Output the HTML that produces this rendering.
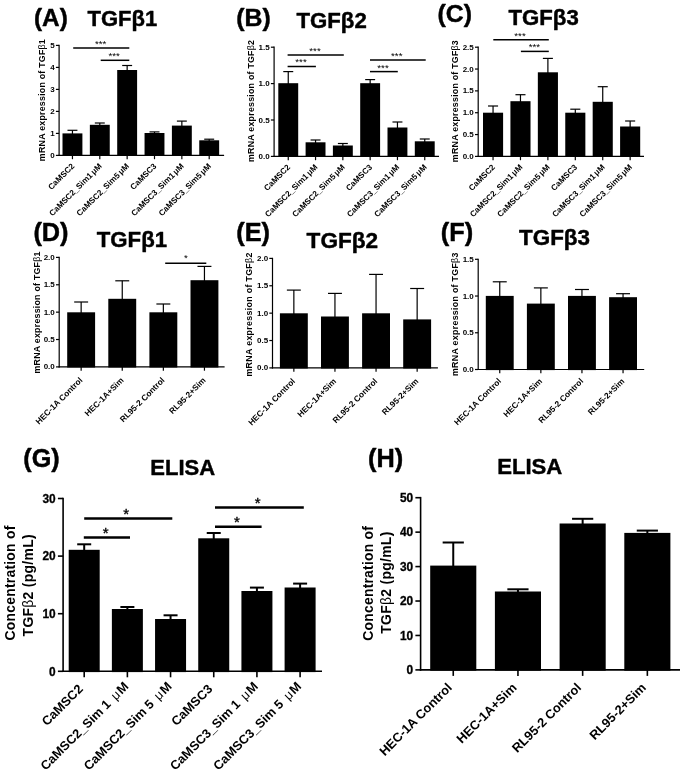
<!DOCTYPE html>
<html>
<head>
<meta charset="utf-8">
<title>Figure</title>
<style>
html,body{margin:0;padding:0;background:#fff;}
body{width:685px;height:772px;overflow:hidden;font-family:'Liberation Sans', sans-serif;}
svg{display:block;font-family:"Liberation Sans",sans-serif;fill:#000;filter:blur(0.45px);}
</style>
</head>
<body>
<svg width="685" height="772" viewBox="0 0 685 772">
<rect x="0" y="0" width="685" height="772" fill="#fff"/>
<g>
<line x1="59.10" y1="44.80" x2="59.10" y2="156.00" stroke="#000" stroke-width="1.2"/>
<line x1="58.50" y1="155.40" x2="224.10" y2="155.40" stroke="#000" stroke-width="1.2"/>
<line x1="55.90" y1="155.40" x2="59.10" y2="155.40" stroke="#000" stroke-width="1.2"/>
<text x="54.70" y="157.98" font-size="8.0" font-weight="bold" text-anchor="end">0</text>
<line x1="55.90" y1="133.40" x2="59.10" y2="133.40" stroke="#000" stroke-width="1.2"/>
<text x="54.70" y="135.98" font-size="8.0" font-weight="bold" text-anchor="end">1</text>
<line x1="55.90" y1="111.40" x2="59.10" y2="111.40" stroke="#000" stroke-width="1.2"/>
<text x="54.70" y="113.98" font-size="8.0" font-weight="bold" text-anchor="end">2</text>
<line x1="55.90" y1="89.40" x2="59.10" y2="89.40" stroke="#000" stroke-width="1.2"/>
<text x="54.70" y="91.98" font-size="8.0" font-weight="bold" text-anchor="end">3</text>
<line x1="55.90" y1="67.40" x2="59.10" y2="67.40" stroke="#000" stroke-width="1.2"/>
<text x="54.70" y="69.98" font-size="8.0" font-weight="bold" text-anchor="end">4</text>
<line x1="55.90" y1="45.40" x2="59.10" y2="45.40" stroke="#000" stroke-width="1.2"/>
<text x="54.70" y="47.98" font-size="8.0" font-weight="bold" text-anchor="end">5</text>
<rect x="62.50" y="133.40" width="19.90" height="22.60" fill="#000"/>
<line x1="72.45" y1="130.30" x2="72.45" y2="134.40" stroke="#000" stroke-width="1.2"/>
<line x1="67.48" y1="130.30" x2="77.42" y2="130.30" stroke="#000" stroke-width="1.2"/>
<line x1="72.45" y1="155.40" x2="72.45" y2="159.20" stroke="#000" stroke-width="1.2"/>
<text x="74.95" y="166.70" font-size="8.2" font-weight="bold" text-anchor="end" transform="rotate(-45 74.95 166.70)">CaMSC2</text>
<rect x="89.85" y="124.80" width="19.90" height="31.20" fill="#000"/>
<line x1="99.80" y1="123.00" x2="99.80" y2="125.80" stroke="#000" stroke-width="1.2"/>
<line x1="94.83" y1="123.00" x2="104.77" y2="123.00" stroke="#000" stroke-width="1.2"/>
<line x1="99.80" y1="155.40" x2="99.80" y2="159.20" stroke="#000" stroke-width="1.2"/>
<text x="102.30" y="166.70" font-size="8.2" font-weight="bold" text-anchor="end" transform="rotate(-45 102.30 166.70)">CaMSC2_Sim1<tspan dx="1.2">&#956;</tspan>M</text>
<rect x="117.20" y="70.00" width="19.90" height="86.00" fill="#000"/>
<line x1="127.15" y1="65.50" x2="127.15" y2="71.00" stroke="#000" stroke-width="1.2"/>
<line x1="122.18" y1="65.50" x2="132.12" y2="65.50" stroke="#000" stroke-width="1.2"/>
<line x1="127.15" y1="155.40" x2="127.15" y2="159.20" stroke="#000" stroke-width="1.2"/>
<text x="129.65" y="166.70" font-size="8.2" font-weight="bold" text-anchor="end" transform="rotate(-45 129.65 166.70)">CaMSC2_Sim5<tspan dx="1.2">&#956;</tspan>M</text>
<rect x="144.55" y="133.00" width="19.90" height="23.00" fill="#000"/>
<line x1="154.50" y1="131.90" x2="154.50" y2="134.00" stroke="#000" stroke-width="1.2"/>
<line x1="149.53" y1="131.90" x2="159.47" y2="131.90" stroke="#000" stroke-width="1.2"/>
<line x1="154.50" y1="155.40" x2="154.50" y2="159.20" stroke="#000" stroke-width="1.2"/>
<text x="157.00" y="166.70" font-size="8.2" font-weight="bold" text-anchor="end" transform="rotate(-45 157.00 166.70)">CaMSC3</text>
<rect x="171.90" y="125.60" width="19.90" height="30.40" fill="#000"/>
<line x1="181.85" y1="121.10" x2="181.85" y2="126.60" stroke="#000" stroke-width="1.2"/>
<line x1="176.88" y1="121.10" x2="186.82" y2="121.10" stroke="#000" stroke-width="1.2"/>
<line x1="181.85" y1="155.40" x2="181.85" y2="159.20" stroke="#000" stroke-width="1.2"/>
<text x="184.35" y="166.70" font-size="8.2" font-weight="bold" text-anchor="end" transform="rotate(-45 184.35 166.70)">CaMSC3_Sim1<tspan dx="1.2">&#956;</tspan>M</text>
<rect x="199.25" y="140.30" width="19.90" height="15.70" fill="#000"/>
<line x1="209.20" y1="139.20" x2="209.20" y2="141.30" stroke="#000" stroke-width="1.2"/>
<line x1="204.22" y1="139.20" x2="214.17" y2="139.20" stroke="#000" stroke-width="1.2"/>
<line x1="209.20" y1="155.40" x2="209.20" y2="159.20" stroke="#000" stroke-width="1.2"/>
<text x="211.70" y="166.70" font-size="8.2" font-weight="bold" text-anchor="end" transform="rotate(-45 211.70 166.70)">CaMSC3_Sim5<tspan dx="1.2">&#956;</tspan>M</text>
<line x1="73.20" y1="48.00" x2="129.30" y2="48.00" stroke="#000" stroke-width="1.5"/>
<text x="100.70" y="46.90" font-size="9.9" font-weight="normal" text-anchor="middle">***</text>
<line x1="100.70" y1="60.30" x2="129.30" y2="60.30" stroke="#000" stroke-width="1.5"/>
<text x="114.20" y="59.20" font-size="9.9" font-weight="normal" text-anchor="middle">***</text>
<text x="45.50" y="100.20" font-size="8.9" font-weight="bold" text-anchor="middle" transform="rotate(-90 45.50 100.20)" textLength="122" lengthAdjust="spacing">mRNA expression of TGF<tspan font-weight="normal">&#946;</tspan>1</text>
<text x="34.00" y="25.50" font-size="24.3" font-weight="bold" text-anchor="start" stroke="#000" stroke-width="0.45" stroke-linejoin="round">(A)</text>
<text x="87.50" y="25.50" font-size="22" font-weight="bold" text-anchor="start" stroke="#000" stroke-width="0.45" stroke-linejoin="round">TGF&#946;1</text>
</g>
<g>
<line x1="274.10" y1="46.60" x2="274.10" y2="157.00" stroke="#000" stroke-width="1.2"/>
<line x1="273.50" y1="156.40" x2="439.00" y2="156.40" stroke="#000" stroke-width="1.2"/>
<line x1="270.90" y1="156.40" x2="274.10" y2="156.40" stroke="#000" stroke-width="1.2"/>
<text x="269.70" y="158.98" font-size="8.0" font-weight="bold" text-anchor="end">0.0</text>
<line x1="270.90" y1="120.00" x2="274.10" y2="120.00" stroke="#000" stroke-width="1.2"/>
<text x="269.70" y="122.58" font-size="8.0" font-weight="bold" text-anchor="end">0.5</text>
<line x1="270.90" y1="83.60" x2="274.10" y2="83.60" stroke="#000" stroke-width="1.2"/>
<text x="269.70" y="86.18" font-size="8.0" font-weight="bold" text-anchor="end">1.0</text>
<line x1="270.90" y1="47.20" x2="274.10" y2="47.20" stroke="#000" stroke-width="1.2"/>
<text x="269.70" y="49.78" font-size="8.0" font-weight="bold" text-anchor="end">1.5</text>
<rect x="278.30" y="83.20" width="19.90" height="73.80" fill="#000"/>
<line x1="288.25" y1="71.60" x2="288.25" y2="84.20" stroke="#000" stroke-width="1.2"/>
<line x1="283.27" y1="71.60" x2="293.23" y2="71.60" stroke="#000" stroke-width="1.2"/>
<line x1="288.25" y1="156.40" x2="288.25" y2="160.20" stroke="#000" stroke-width="1.2"/>
<text x="290.75" y="167.70" font-size="8.2" font-weight="bold" text-anchor="end" transform="rotate(-45 290.75 167.70)">CaMSC2</text>
<rect x="305.60" y="142.30" width="19.90" height="14.70" fill="#000"/>
<line x1="315.55" y1="140.00" x2="315.55" y2="143.30" stroke="#000" stroke-width="1.2"/>
<line x1="310.57" y1="140.00" x2="320.53" y2="140.00" stroke="#000" stroke-width="1.2"/>
<line x1="315.55" y1="156.40" x2="315.55" y2="160.20" stroke="#000" stroke-width="1.2"/>
<text x="318.05" y="167.70" font-size="8.2" font-weight="bold" text-anchor="end" transform="rotate(-45 318.05 167.70)">CaMSC2_Sim1<tspan dx="1.2">&#956;</tspan>M</text>
<rect x="332.90" y="145.50" width="19.90" height="11.50" fill="#000"/>
<line x1="342.85" y1="143.50" x2="342.85" y2="146.50" stroke="#000" stroke-width="1.2"/>
<line x1="337.88" y1="143.50" x2="347.83" y2="143.50" stroke="#000" stroke-width="1.2"/>
<line x1="342.85" y1="156.40" x2="342.85" y2="160.20" stroke="#000" stroke-width="1.2"/>
<text x="345.35" y="167.70" font-size="8.2" font-weight="bold" text-anchor="end" transform="rotate(-45 345.35 167.70)">CaMSC2_Sim5<tspan dx="1.2">&#956;</tspan>M</text>
<rect x="360.20" y="83.20" width="19.90" height="73.80" fill="#000"/>
<line x1="370.15" y1="79.60" x2="370.15" y2="84.20" stroke="#000" stroke-width="1.2"/>
<line x1="365.18" y1="79.60" x2="375.13" y2="79.60" stroke="#000" stroke-width="1.2"/>
<line x1="370.15" y1="156.40" x2="370.15" y2="160.20" stroke="#000" stroke-width="1.2"/>
<text x="372.65" y="167.70" font-size="8.2" font-weight="bold" text-anchor="end" transform="rotate(-45 372.65 167.70)">CaMSC3</text>
<rect x="387.50" y="127.50" width="19.90" height="29.50" fill="#000"/>
<line x1="397.45" y1="122.00" x2="397.45" y2="128.50" stroke="#000" stroke-width="1.2"/>
<line x1="392.47" y1="122.00" x2="402.43" y2="122.00" stroke="#000" stroke-width="1.2"/>
<line x1="397.45" y1="156.40" x2="397.45" y2="160.20" stroke="#000" stroke-width="1.2"/>
<text x="399.95" y="167.70" font-size="8.2" font-weight="bold" text-anchor="end" transform="rotate(-45 399.95 167.70)">CaMSC3_Sim1<tspan dx="1.2">&#956;</tspan>M</text>
<rect x="414.80" y="141.30" width="19.90" height="15.70" fill="#000"/>
<line x1="424.75" y1="139.00" x2="424.75" y2="142.30" stroke="#000" stroke-width="1.2"/>
<line x1="419.77" y1="139.00" x2="429.73" y2="139.00" stroke="#000" stroke-width="1.2"/>
<line x1="424.75" y1="156.40" x2="424.75" y2="160.20" stroke="#000" stroke-width="1.2"/>
<text x="427.25" y="167.70" font-size="8.2" font-weight="bold" text-anchor="end" transform="rotate(-45 427.25 167.70)">CaMSC3_Sim5<tspan dx="1.2">&#956;</tspan>M</text>
<line x1="287.60" y1="54.90" x2="343.80" y2="54.90" stroke="#000" stroke-width="1.5"/>
<text x="315.00" y="53.80" font-size="9.9" font-weight="normal" text-anchor="middle">***</text>
<line x1="287.60" y1="66.50" x2="315.90" y2="66.50" stroke="#000" stroke-width="1.5"/>
<text x="301.00" y="65.40" font-size="9.9" font-weight="normal" text-anchor="middle">***</text>
<line x1="370.00" y1="60.00" x2="425.70" y2="60.00" stroke="#000" stroke-width="1.5"/>
<text x="396.80" y="58.90" font-size="9.9" font-weight="normal" text-anchor="middle">***</text>
<line x1="370.00" y1="71.60" x2="397.80" y2="71.60" stroke="#000" stroke-width="1.5"/>
<text x="383.00" y="70.50" font-size="9.9" font-weight="normal" text-anchor="middle">***</text>
<text x="253.90" y="101.00" font-size="8.9" font-weight="bold" text-anchor="middle" transform="rotate(-90 253.90 101.00)" textLength="122" lengthAdjust="spacing">mRNA expression of TGF<tspan font-weight="normal">&#946;</tspan>2</text>
<text x="236.30" y="25.80" font-size="24.8" font-weight="bold" text-anchor="start" stroke="#000" stroke-width="0.45" stroke-linejoin="round">(B)</text>
<text x="296.50" y="27.60" font-size="22.2" font-weight="bold" text-anchor="start" stroke="#000" stroke-width="0.45" stroke-linejoin="round">TGF&#946;2</text>
</g>
<g>
<line x1="478.20" y1="46.60" x2="478.20" y2="157.00" stroke="#000" stroke-width="1.2"/>
<line x1="477.60" y1="156.40" x2="644.00" y2="156.40" stroke="#000" stroke-width="1.2"/>
<line x1="475.00" y1="156.40" x2="478.20" y2="156.40" stroke="#000" stroke-width="1.2"/>
<text x="473.80" y="158.98" font-size="8.0" font-weight="bold" text-anchor="end">0.0</text>
<line x1="475.00" y1="134.56" x2="478.20" y2="134.56" stroke="#000" stroke-width="1.2"/>
<text x="473.80" y="137.14" font-size="8.0" font-weight="bold" text-anchor="end">0.5</text>
<line x1="475.00" y1="112.72" x2="478.20" y2="112.72" stroke="#000" stroke-width="1.2"/>
<text x="473.80" y="115.30" font-size="8.0" font-weight="bold" text-anchor="end">1.0</text>
<line x1="475.00" y1="90.88" x2="478.20" y2="90.88" stroke="#000" stroke-width="1.2"/>
<text x="473.80" y="93.46" font-size="8.0" font-weight="bold" text-anchor="end">1.5</text>
<line x1="475.00" y1="69.04" x2="478.20" y2="69.04" stroke="#000" stroke-width="1.2"/>
<text x="473.80" y="71.62" font-size="8.0" font-weight="bold" text-anchor="end">2.0</text>
<line x1="475.00" y1="47.20" x2="478.20" y2="47.20" stroke="#000" stroke-width="1.2"/>
<text x="473.80" y="49.78" font-size="8.0" font-weight="bold" text-anchor="end">2.5</text>
<rect x="483.00" y="112.70" width="20.10" height="44.30" fill="#000"/>
<line x1="493.05" y1="106.00" x2="493.05" y2="113.70" stroke="#000" stroke-width="1.2"/>
<line x1="488.03" y1="106.00" x2="498.07" y2="106.00" stroke="#000" stroke-width="1.2"/>
<line x1="493.05" y1="156.40" x2="493.05" y2="160.20" stroke="#000" stroke-width="1.2"/>
<text x="495.55" y="167.70" font-size="8.2" font-weight="bold" text-anchor="end" transform="rotate(-45 495.55 167.70)">CaMSC2</text>
<rect x="510.42" y="101.20" width="20.10" height="55.80" fill="#000"/>
<line x1="520.47" y1="94.70" x2="520.47" y2="102.20" stroke="#000" stroke-width="1.2"/>
<line x1="515.45" y1="94.70" x2="525.50" y2="94.70" stroke="#000" stroke-width="1.2"/>
<line x1="520.47" y1="156.40" x2="520.47" y2="160.20" stroke="#000" stroke-width="1.2"/>
<text x="522.97" y="167.70" font-size="8.2" font-weight="bold" text-anchor="end" transform="rotate(-45 522.97 167.70)">CaMSC2_Sim1<tspan dx="1.2">&#956;</tspan>M</text>
<rect x="537.84" y="72.30" width="20.10" height="84.70" fill="#000"/>
<line x1="547.89" y1="58.40" x2="547.89" y2="73.30" stroke="#000" stroke-width="1.2"/>
<line x1="542.87" y1="58.40" x2="552.91" y2="58.40" stroke="#000" stroke-width="1.2"/>
<line x1="547.89" y1="156.40" x2="547.89" y2="160.20" stroke="#000" stroke-width="1.2"/>
<text x="550.39" y="167.70" font-size="8.2" font-weight="bold" text-anchor="end" transform="rotate(-45 550.39 167.70)">CaMSC2_Sim5<tspan dx="1.2">&#956;</tspan>M</text>
<rect x="565.26" y="112.70" width="20.10" height="44.30" fill="#000"/>
<line x1="575.31" y1="109.20" x2="575.31" y2="113.70" stroke="#000" stroke-width="1.2"/>
<line x1="570.28" y1="109.20" x2="580.33" y2="109.20" stroke="#000" stroke-width="1.2"/>
<line x1="575.31" y1="156.40" x2="575.31" y2="160.20" stroke="#000" stroke-width="1.2"/>
<text x="577.81" y="167.70" font-size="8.2" font-weight="bold" text-anchor="end" transform="rotate(-45 577.81 167.70)">CaMSC3</text>
<rect x="592.68" y="101.80" width="20.10" height="55.20" fill="#000"/>
<line x1="602.73" y1="86.70" x2="602.73" y2="102.80" stroke="#000" stroke-width="1.2"/>
<line x1="597.71" y1="86.70" x2="607.75" y2="86.70" stroke="#000" stroke-width="1.2"/>
<line x1="602.73" y1="156.40" x2="602.73" y2="160.20" stroke="#000" stroke-width="1.2"/>
<text x="605.23" y="167.70" font-size="8.2" font-weight="bold" text-anchor="end" transform="rotate(-45 605.23 167.70)">CaMSC3_Sim1<tspan dx="1.2">&#956;</tspan>M</text>
<rect x="620.10" y="126.50" width="20.10" height="30.50" fill="#000"/>
<line x1="630.15" y1="121.00" x2="630.15" y2="127.50" stroke="#000" stroke-width="1.2"/>
<line x1="625.12" y1="121.00" x2="635.17" y2="121.00" stroke="#000" stroke-width="1.2"/>
<line x1="630.15" y1="156.40" x2="630.15" y2="160.20" stroke="#000" stroke-width="1.2"/>
<text x="632.65" y="167.70" font-size="8.2" font-weight="bold" text-anchor="end" transform="rotate(-45 632.65 167.70)">CaMSC3_Sim5<tspan dx="1.2">&#956;</tspan>M</text>
<line x1="493.30" y1="39.80" x2="548.80" y2="39.80" stroke="#000" stroke-width="1.5"/>
<text x="520.00" y="38.70" font-size="9.9" font-weight="normal" text-anchor="middle">***</text>
<line x1="520.90" y1="51.40" x2="548.80" y2="51.40" stroke="#000" stroke-width="1.5"/>
<text x="534.40" y="50.30" font-size="9.9" font-weight="normal" text-anchor="middle">***</text>
<text x="458.00" y="101.20" font-size="8.9" font-weight="bold" text-anchor="middle" transform="rotate(-90 458.00 101.20)" textLength="122" lengthAdjust="spacing">mRNA expression of TGF<tspan font-weight="normal">&#946;</tspan>3</text>
<text x="437.60" y="21.60" font-size="24.8" font-weight="bold" text-anchor="start" stroke="#000" stroke-width="0.45" stroke-linejoin="round">(C)</text>
<text x="508.50" y="24.80" font-size="22.2" font-weight="bold" text-anchor="start" stroke="#000" stroke-width="0.45" stroke-linejoin="round">TGF&#946;3</text>
</g>
<g>
<line x1="59.20" y1="256.80" x2="59.20" y2="367.50" stroke="#000" stroke-width="1.2"/>
<line x1="58.60" y1="366.90" x2="224.60" y2="366.90" stroke="#000" stroke-width="1.2"/>
<line x1="56.00" y1="366.90" x2="59.20" y2="366.90" stroke="#000" stroke-width="1.2"/>
<text x="54.80" y="369.48" font-size="8.0" font-weight="bold" text-anchor="end">0.0</text>
<line x1="56.00" y1="339.52" x2="59.20" y2="339.52" stroke="#000" stroke-width="1.2"/>
<text x="54.80" y="342.10" font-size="8.0" font-weight="bold" text-anchor="end">0.5</text>
<line x1="56.00" y1="312.15" x2="59.20" y2="312.15" stroke="#000" stroke-width="1.2"/>
<text x="54.80" y="314.73" font-size="8.0" font-weight="bold" text-anchor="end">1.0</text>
<line x1="56.00" y1="284.77" x2="59.20" y2="284.77" stroke="#000" stroke-width="1.2"/>
<text x="54.80" y="287.35" font-size="8.0" font-weight="bold" text-anchor="end">1.5</text>
<line x1="56.00" y1="257.40" x2="59.20" y2="257.40" stroke="#000" stroke-width="1.2"/>
<text x="54.80" y="259.98" font-size="8.0" font-weight="bold" text-anchor="end">2.0</text>
<rect x="67.20" y="312.30" width="27.90" height="55.20" fill="#000"/>
<line x1="81.15" y1="302.00" x2="81.15" y2="313.30" stroke="#000" stroke-width="1.2"/>
<line x1="74.18" y1="302.00" x2="88.12" y2="302.00" stroke="#000" stroke-width="1.2"/>
<line x1="81.15" y1="366.90" x2="81.15" y2="370.70" stroke="#000" stroke-width="1.2"/>
<text x="83.05" y="380.80" font-size="8.3" font-weight="bold" text-anchor="end" transform="rotate(-45 83.05 380.80)">HEC-1A Control</text>
<rect x="108.30" y="298.80" width="27.90" height="68.70" fill="#000"/>
<line x1="122.25" y1="280.80" x2="122.25" y2="299.80" stroke="#000" stroke-width="1.2"/>
<line x1="115.28" y1="280.80" x2="129.23" y2="280.80" stroke="#000" stroke-width="1.2"/>
<line x1="122.25" y1="366.90" x2="122.25" y2="370.70" stroke="#000" stroke-width="1.2"/>
<text x="124.15" y="380.80" font-size="8.3" font-weight="bold" text-anchor="end" transform="rotate(-45 124.15 380.80)">HEC-1A+Sim</text>
<rect x="149.40" y="312.30" width="27.90" height="55.20" fill="#000"/>
<line x1="163.35" y1="304.00" x2="163.35" y2="313.30" stroke="#000" stroke-width="1.2"/>
<line x1="156.38" y1="304.00" x2="170.32" y2="304.00" stroke="#000" stroke-width="1.2"/>
<line x1="163.35" y1="366.90" x2="163.35" y2="370.70" stroke="#000" stroke-width="1.2"/>
<text x="165.25" y="380.80" font-size="8.3" font-weight="bold" text-anchor="end" transform="rotate(-45 165.25 380.80)">RL95-2 Control</text>
<rect x="190.50" y="280.20" width="27.90" height="87.30" fill="#000"/>
<line x1="204.45" y1="266.40" x2="204.45" y2="281.20" stroke="#000" stroke-width="1.2"/>
<line x1="197.47" y1="266.40" x2="211.42" y2="266.40" stroke="#000" stroke-width="1.2"/>
<line x1="204.45" y1="366.90" x2="204.45" y2="370.70" stroke="#000" stroke-width="1.2"/>
<text x="206.35" y="380.80" font-size="8.3" font-weight="bold" text-anchor="end" transform="rotate(-45 206.35 380.80)">RL95-2+Sim</text>
<line x1="165.20" y1="263.20" x2="206.30" y2="263.20" stroke="#000" stroke-width="1.5"/>
<text x="186.00" y="261.20" font-size="9.9" font-weight="normal" text-anchor="middle">*</text>
<text x="40.10" y="312.50" font-size="8.9" font-weight="bold" text-anchor="middle" transform="rotate(-90 40.10 312.50)" textLength="122" lengthAdjust="spacing">mRNA expression of TGF<tspan font-weight="normal">&#946;</tspan>1</text>
<text x="33.40" y="241.20" font-size="25.3" font-weight="bold" text-anchor="start" stroke="#000" stroke-width="0.45" stroke-linejoin="round">(D)</text>
<text x="96.80" y="246.60" font-size="22.2" font-weight="bold" text-anchor="start" stroke="#000" stroke-width="0.45" stroke-linejoin="round">TGF&#946;1</text>
</g>
<g>
<line x1="272.50" y1="257.80" x2="272.50" y2="368.50" stroke="#000" stroke-width="1.2"/>
<line x1="271.90" y1="367.90" x2="437.90" y2="367.90" stroke="#000" stroke-width="1.2"/>
<line x1="269.30" y1="367.90" x2="272.50" y2="367.90" stroke="#000" stroke-width="1.2"/>
<text x="268.10" y="370.48" font-size="8.0" font-weight="bold" text-anchor="end">0.0</text>
<line x1="269.30" y1="340.52" x2="272.50" y2="340.52" stroke="#000" stroke-width="1.2"/>
<text x="268.10" y="343.10" font-size="8.0" font-weight="bold" text-anchor="end">0.5</text>
<line x1="269.30" y1="313.15" x2="272.50" y2="313.15" stroke="#000" stroke-width="1.2"/>
<text x="268.10" y="315.73" font-size="8.0" font-weight="bold" text-anchor="end">1.0</text>
<line x1="269.30" y1="285.77" x2="272.50" y2="285.77" stroke="#000" stroke-width="1.2"/>
<text x="268.10" y="288.35" font-size="8.0" font-weight="bold" text-anchor="end">1.5</text>
<line x1="269.30" y1="258.40" x2="272.50" y2="258.40" stroke="#000" stroke-width="1.2"/>
<text x="268.10" y="260.98" font-size="8.0" font-weight="bold" text-anchor="end">2.0</text>
<rect x="279.90" y="313.30" width="27.90" height="55.20" fill="#000"/>
<line x1="293.85" y1="290.10" x2="293.85" y2="314.30" stroke="#000" stroke-width="1.2"/>
<line x1="286.87" y1="290.10" x2="300.82" y2="290.10" stroke="#000" stroke-width="1.2"/>
<line x1="293.85" y1="367.90" x2="293.85" y2="371.70" stroke="#000" stroke-width="1.2"/>
<text x="295.75" y="381.80" font-size="8.3" font-weight="bold" text-anchor="end" transform="rotate(-45 295.75 381.80)">HEC-1A Control</text>
<rect x="321.00" y="316.50" width="27.90" height="52.00" fill="#000"/>
<line x1="334.95" y1="293.40" x2="334.95" y2="317.50" stroke="#000" stroke-width="1.2"/>
<line x1="327.97" y1="293.40" x2="341.93" y2="293.40" stroke="#000" stroke-width="1.2"/>
<line x1="334.95" y1="367.90" x2="334.95" y2="371.70" stroke="#000" stroke-width="1.2"/>
<text x="336.85" y="381.80" font-size="8.3" font-weight="bold" text-anchor="end" transform="rotate(-45 336.85 381.80)">HEC-1A+Sim</text>
<rect x="362.10" y="313.30" width="27.90" height="55.20" fill="#000"/>
<line x1="376.05" y1="274.40" x2="376.05" y2="314.30" stroke="#000" stroke-width="1.2"/>
<line x1="369.07" y1="274.40" x2="383.02" y2="274.40" stroke="#000" stroke-width="1.2"/>
<line x1="376.05" y1="367.90" x2="376.05" y2="371.70" stroke="#000" stroke-width="1.2"/>
<text x="377.95" y="381.80" font-size="8.3" font-weight="bold" text-anchor="end" transform="rotate(-45 377.95 381.80)">RL95-2 Control</text>
<rect x="403.20" y="319.40" width="27.90" height="49.10" fill="#000"/>
<line x1="417.15" y1="288.50" x2="417.15" y2="320.40" stroke="#000" stroke-width="1.2"/>
<line x1="410.17" y1="288.50" x2="424.12" y2="288.50" stroke="#000" stroke-width="1.2"/>
<line x1="417.15" y1="367.90" x2="417.15" y2="371.70" stroke="#000" stroke-width="1.2"/>
<text x="419.05" y="381.80" font-size="8.3" font-weight="bold" text-anchor="end" transform="rotate(-45 419.05 381.80)">RL95-2+Sim</text>
<text x="252.50" y="314.60" font-size="8.9" font-weight="bold" text-anchor="middle" transform="rotate(-90 252.50 314.60)" textLength="124" lengthAdjust="spacing">mRNA expression of TGF<tspan font-weight="normal">&#946;</tspan>2</text>
<text x="236.30" y="241.20" font-size="25.3" font-weight="bold" text-anchor="start" stroke="#000" stroke-width="0.45" stroke-linejoin="round">(E)</text>
<text x="306.60" y="247.70" font-size="22.6" font-weight="bold" text-anchor="start" stroke="#000" stroke-width="0.45" stroke-linejoin="round">TGF&#946;2</text>
</g>
<g>
<line x1="478.20" y1="258.70" x2="478.20" y2="370.10" stroke="#000" stroke-width="1.2"/>
<line x1="477.60" y1="369.50" x2="644.20" y2="369.50" stroke="#000" stroke-width="1.2"/>
<line x1="475.00" y1="369.50" x2="478.20" y2="369.50" stroke="#000" stroke-width="1.2"/>
<text x="473.80" y="372.08" font-size="8.0" font-weight="bold" text-anchor="end">0.0</text>
<line x1="475.00" y1="332.77" x2="478.20" y2="332.77" stroke="#000" stroke-width="1.2"/>
<text x="473.80" y="335.35" font-size="8.0" font-weight="bold" text-anchor="end">0.5</text>
<line x1="475.00" y1="296.03" x2="478.20" y2="296.03" stroke="#000" stroke-width="1.2"/>
<text x="473.80" y="298.61" font-size="8.0" font-weight="bold" text-anchor="end">1.0</text>
<line x1="475.00" y1="259.30" x2="478.20" y2="259.30" stroke="#000" stroke-width="1.2"/>
<text x="473.80" y="261.88" font-size="8.0" font-weight="bold" text-anchor="end">1.5</text>
<rect x="485.80" y="295.90" width="27.90" height="74.20" fill="#000"/>
<line x1="499.75" y1="281.80" x2="499.75" y2="296.90" stroke="#000" stroke-width="1.2"/>
<line x1="492.77" y1="281.80" x2="506.73" y2="281.80" stroke="#000" stroke-width="1.2"/>
<line x1="499.75" y1="369.50" x2="499.75" y2="373.30" stroke="#000" stroke-width="1.2"/>
<text x="501.65" y="381.70" font-size="8.3" font-weight="bold" text-anchor="end" transform="rotate(-45 501.65 381.70)">HEC-1A Control</text>
<rect x="526.90" y="303.60" width="27.90" height="66.50" fill="#000"/>
<line x1="540.85" y1="287.90" x2="540.85" y2="304.60" stroke="#000" stroke-width="1.2"/>
<line x1="533.88" y1="287.90" x2="547.83" y2="287.90" stroke="#000" stroke-width="1.2"/>
<line x1="540.85" y1="369.50" x2="540.85" y2="373.30" stroke="#000" stroke-width="1.2"/>
<text x="542.75" y="381.70" font-size="8.3" font-weight="bold" text-anchor="end" transform="rotate(-45 542.75 381.70)">HEC-1A+Sim</text>
<rect x="568.00" y="295.90" width="27.90" height="74.20" fill="#000"/>
<line x1="581.95" y1="289.50" x2="581.95" y2="296.90" stroke="#000" stroke-width="1.2"/>
<line x1="574.98" y1="289.50" x2="588.93" y2="289.50" stroke="#000" stroke-width="1.2"/>
<line x1="581.95" y1="369.50" x2="581.95" y2="373.30" stroke="#000" stroke-width="1.2"/>
<text x="583.85" y="381.70" font-size="8.3" font-weight="bold" text-anchor="end" transform="rotate(-45 583.85 381.70)">RL95-2 Control</text>
<rect x="609.10" y="297.20" width="27.90" height="72.90" fill="#000"/>
<line x1="623.05" y1="293.70" x2="623.05" y2="298.20" stroke="#000" stroke-width="1.2"/>
<line x1="616.08" y1="293.70" x2="630.03" y2="293.70" stroke="#000" stroke-width="1.2"/>
<line x1="623.05" y1="369.50" x2="623.05" y2="373.30" stroke="#000" stroke-width="1.2"/>
<text x="624.95" y="381.70" font-size="8.3" font-weight="bold" text-anchor="end" transform="rotate(-45 624.95 381.70)">RL95-2+Sim</text>
<text x="458.00" y="314.30" font-size="8.9" font-weight="bold" text-anchor="middle" transform="rotate(-90 458.00 314.30)" textLength="123.5" lengthAdjust="spacing">mRNA expression of TGF<tspan font-weight="normal">&#946;</tspan>3</text>
<text x="440.80" y="240.50" font-size="25.3" font-weight="bold" text-anchor="start" stroke="#000" stroke-width="0.45" stroke-linejoin="round">(F)</text>
<text x="519.10" y="245.30" font-size="22.4" font-weight="bold" text-anchor="start" stroke="#000" stroke-width="0.45" stroke-linejoin="round">TGF&#946;3</text>
</g>
<g>
<line x1="63.10" y1="497.70" x2="63.10" y2="672.10" stroke="#000" stroke-width="1.6"/>
<line x1="62.30" y1="671.30" x2="322.00" y2="671.30" stroke="#000" stroke-width="1.6"/>
<line x1="57.90" y1="671.30" x2="63.10" y2="671.30" stroke="#000" stroke-width="1.6"/>
<text x="55.70" y="675.58" font-size="11.9" font-weight="bold" text-anchor="end" stroke="#000" stroke-width="0.3">0</text>
<line x1="57.90" y1="613.70" x2="63.10" y2="613.70" stroke="#000" stroke-width="1.6"/>
<text x="55.70" y="617.98" font-size="11.9" font-weight="bold" text-anchor="end" stroke="#000" stroke-width="0.3">10</text>
<line x1="57.90" y1="556.10" x2="63.10" y2="556.10" stroke="#000" stroke-width="1.6"/>
<text x="55.70" y="560.38" font-size="11.9" font-weight="bold" text-anchor="end" stroke="#000" stroke-width="0.3">20</text>
<line x1="57.90" y1="498.50" x2="63.10" y2="498.50" stroke="#000" stroke-width="1.6"/>
<text x="55.70" y="502.78" font-size="11.9" font-weight="bold" text-anchor="end" stroke="#000" stroke-width="0.3">30</text>
<rect x="68.70" y="549.80" width="31.00" height="122.30" fill="#000"/>
<line x1="84.20" y1="544.30" x2="84.20" y2="550.80" stroke="#000" stroke-width="2.0"/>
<line x1="77.20" y1="544.30" x2="91.20" y2="544.30" stroke="#000" stroke-width="2.0"/>
<line x1="84.20" y1="671.30" x2="84.20" y2="677.30" stroke="#000" stroke-width="1.6"/>
<text x="83.70" y="689.80" font-size="12.8" font-weight="bold" text-anchor="end" transform="rotate(-45 83.70 689.80)">CaMSC2</text>
<rect x="111.88" y="609.00" width="31.00" height="63.10" fill="#000"/>
<line x1="127.38" y1="607.00" x2="127.38" y2="610.00" stroke="#000" stroke-width="2.0"/>
<line x1="120.38" y1="607.00" x2="134.38" y2="607.00" stroke="#000" stroke-width="2.0"/>
<line x1="127.38" y1="671.30" x2="127.38" y2="677.30" stroke="#000" stroke-width="1.6"/>
<text x="129.38" y="687.30" font-size="12.8" font-weight="bold" text-anchor="end" transform="rotate(-45 129.38 687.30)">CaMSC2_Sim 1 <tspan font-weight="normal" dx="2.5">&#956;</tspan><tspan dx="1">M</tspan></text>
<rect x="155.06" y="619.00" width="31.00" height="53.10" fill="#000"/>
<line x1="170.56" y1="615.30" x2="170.56" y2="620.00" stroke="#000" stroke-width="2.0"/>
<line x1="163.56" y1="615.30" x2="177.56" y2="615.30" stroke="#000" stroke-width="2.0"/>
<line x1="170.56" y1="671.30" x2="170.56" y2="677.30" stroke="#000" stroke-width="1.6"/>
<text x="172.56" y="687.30" font-size="12.8" font-weight="bold" text-anchor="end" transform="rotate(-45 172.56 687.30)">CaMSC2_Sim 5 <tspan font-weight="normal" dx="2.5">&#956;</tspan><tspan dx="1">M</tspan></text>
<rect x="198.24" y="538.30" width="31.00" height="133.80" fill="#000"/>
<line x1="213.74" y1="533.00" x2="213.74" y2="539.30" stroke="#000" stroke-width="2.0"/>
<line x1="206.74" y1="533.00" x2="220.74" y2="533.00" stroke="#000" stroke-width="2.0"/>
<line x1="213.74" y1="671.30" x2="213.74" y2="677.30" stroke="#000" stroke-width="1.6"/>
<text x="213.24" y="689.80" font-size="12.8" font-weight="bold" text-anchor="end" transform="rotate(-45 213.24 689.80)">CaMSC3</text>
<rect x="241.42" y="591.00" width="31.00" height="81.10" fill="#000"/>
<line x1="256.92" y1="587.60" x2="256.92" y2="592.00" stroke="#000" stroke-width="2.0"/>
<line x1="249.92" y1="587.60" x2="263.92" y2="587.60" stroke="#000" stroke-width="2.0"/>
<line x1="256.92" y1="671.30" x2="256.92" y2="677.30" stroke="#000" stroke-width="1.6"/>
<text x="258.92" y="687.30" font-size="12.8" font-weight="bold" text-anchor="end" transform="rotate(-45 258.92 687.30)">CaMSC3_Sim 1 <tspan font-weight="normal" dx="2.5">&#956;</tspan><tspan dx="1">M</tspan></text>
<rect x="284.60" y="587.50" width="31.00" height="84.60" fill="#000"/>
<line x1="300.10" y1="583.60" x2="300.10" y2="588.50" stroke="#000" stroke-width="2.0"/>
<line x1="293.10" y1="583.60" x2="307.10" y2="583.60" stroke="#000" stroke-width="2.0"/>
<line x1="300.10" y1="671.30" x2="300.10" y2="677.30" stroke="#000" stroke-width="1.6"/>
<text x="302.10" y="687.30" font-size="12.8" font-weight="bold" text-anchor="end" transform="rotate(-45 302.10 687.30)">CaMSC3_Sim 5 <tspan font-weight="normal" dx="2.5">&#956;</tspan><tspan dx="1">M</tspan></text>
<line x1="84.20" y1="518.60" x2="172.30" y2="518.60" stroke="#000" stroke-width="2.5"/>
<text x="126.20" y="519.10" font-size="15" font-weight="normal" text-anchor="middle" stroke="#000" stroke-width="0.35">*</text>
<line x1="83.80" y1="537.60" x2="130.00" y2="537.60" stroke="#000" stroke-width="2.5"/>
<text x="105.70" y="538.10" font-size="15" font-weight="normal" text-anchor="middle" stroke="#000" stroke-width="0.35">*</text>
<line x1="215.00" y1="507.50" x2="303.80" y2="507.50" stroke="#000" stroke-width="2.5"/>
<text x="257.60" y="508.00" font-size="15" font-weight="normal" text-anchor="middle" stroke="#000" stroke-width="0.35">*</text>
<line x1="215.00" y1="526.80" x2="261.60" y2="526.80" stroke="#000" stroke-width="2.5"/>
<text x="236.80" y="527.30" font-size="15" font-weight="normal" text-anchor="middle" stroke="#000" stroke-width="0.35">*</text>
<text x="15.00" y="583.10" font-size="13.9" font-weight="bold" text-anchor="middle" transform="rotate(-90 15.00 583.10)" textLength="114.8" lengthAdjust="spacing">Concentration of</text>
<text x="32.70" y="585.40" font-size="13.9" font-weight="bold" text-anchor="middle" transform="rotate(-90 32.70 585.40)" textLength="102" lengthAdjust="spacing">TGF<tspan font-weight="normal">&#946;</tspan>2 (pg/mL)</text>
<text x="23.30" y="467.30" font-size="25.2" font-weight="bold" text-anchor="start" stroke="#000" stroke-width="0.45" stroke-linejoin="round">(G)</text>
<text x="150.30" y="474.60" font-size="22.0" font-weight="bold" text-anchor="start" stroke="#000" stroke-width="0.45" stroke-linejoin="round">ELISA</text>
</g>
<g>
<line x1="420.60" y1="496.90" x2="420.60" y2="670.70" stroke="#000" stroke-width="1.6"/>
<line x1="419.80" y1="669.90" x2="680.00" y2="669.90" stroke="#000" stroke-width="1.6"/>
<line x1="415.40" y1="669.90" x2="420.60" y2="669.90" stroke="#000" stroke-width="1.6"/>
<text x="413.20" y="674.18" font-size="11.9" font-weight="bold" text-anchor="end" stroke="#000" stroke-width="0.3">0</text>
<line x1="415.40" y1="635.46" x2="420.60" y2="635.46" stroke="#000" stroke-width="1.6"/>
<text x="413.20" y="639.74" font-size="11.9" font-weight="bold" text-anchor="end" stroke="#000" stroke-width="0.3">10</text>
<line x1="415.40" y1="601.02" x2="420.60" y2="601.02" stroke="#000" stroke-width="1.6"/>
<text x="413.20" y="605.30" font-size="11.9" font-weight="bold" text-anchor="end" stroke="#000" stroke-width="0.3">20</text>
<line x1="415.40" y1="566.58" x2="420.60" y2="566.58" stroke="#000" stroke-width="1.6"/>
<text x="413.20" y="570.86" font-size="11.9" font-weight="bold" text-anchor="end" stroke="#000" stroke-width="0.3">30</text>
<line x1="415.40" y1="532.14" x2="420.60" y2="532.14" stroke="#000" stroke-width="1.6"/>
<text x="413.20" y="536.42" font-size="11.9" font-weight="bold" text-anchor="end" stroke="#000" stroke-width="0.3">40</text>
<line x1="415.40" y1="497.70" x2="420.60" y2="497.70" stroke="#000" stroke-width="1.6"/>
<text x="413.20" y="501.98" font-size="11.9" font-weight="bold" text-anchor="end" stroke="#000" stroke-width="0.3">50</text>
<rect x="430.20" y="565.60" width="46.10" height="105.10" fill="#000"/>
<line x1="453.25" y1="542.50" x2="453.25" y2="566.60" stroke="#000" stroke-width="2.0"/>
<line x1="442.65" y1="542.50" x2="463.85" y2="542.50" stroke="#000" stroke-width="2.0"/>
<line x1="453.25" y1="669.90" x2="453.25" y2="675.90" stroke="#000" stroke-width="1.6"/>
<text x="452.75" y="688.40" font-size="12.8" font-weight="bold" text-anchor="end" transform="rotate(-45 452.75 688.40)">HEC-1A Control</text>
<rect x="494.90" y="591.50" width="46.10" height="79.20" fill="#000"/>
<line x1="517.95" y1="589.30" x2="517.95" y2="592.50" stroke="#000" stroke-width="2.0"/>
<line x1="507.35" y1="589.30" x2="528.55" y2="589.30" stroke="#000" stroke-width="2.0"/>
<line x1="517.95" y1="669.90" x2="517.95" y2="675.90" stroke="#000" stroke-width="1.6"/>
<text x="517.45" y="688.40" font-size="12.8" font-weight="bold" text-anchor="end" transform="rotate(-45 517.45 688.40)">HEC-1A+Sim</text>
<rect x="559.60" y="523.50" width="46.10" height="147.20" fill="#000"/>
<line x1="582.65" y1="518.80" x2="582.65" y2="524.50" stroke="#000" stroke-width="2.0"/>
<line x1="572.05" y1="518.80" x2="593.25" y2="518.80" stroke="#000" stroke-width="2.0"/>
<line x1="582.65" y1="669.90" x2="582.65" y2="675.90" stroke="#000" stroke-width="1.6"/>
<text x="582.15" y="688.40" font-size="12.8" font-weight="bold" text-anchor="end" transform="rotate(-45 582.15 688.40)">RL95-2 Control</text>
<rect x="624.30" y="532.90" width="46.10" height="137.80" fill="#000"/>
<line x1="647.35" y1="530.60" x2="647.35" y2="533.90" stroke="#000" stroke-width="2.0"/>
<line x1="636.75" y1="530.60" x2="657.95" y2="530.60" stroke="#000" stroke-width="2.0"/>
<line x1="647.35" y1="669.90" x2="647.35" y2="675.90" stroke="#000" stroke-width="1.6"/>
<text x="646.85" y="688.40" font-size="12.8" font-weight="bold" text-anchor="end" transform="rotate(-45 646.85 688.40)">RL95-2+Sim</text>
<text x="373.10" y="583.40" font-size="13.9" font-weight="bold" text-anchor="middle" transform="rotate(-90 373.10 583.40)" textLength="114.5" lengthAdjust="spacing">Concentration of</text>
<text x="390.80" y="582.70" font-size="13.9" font-weight="bold" text-anchor="middle" transform="rotate(-90 390.80 582.70)" textLength="102" lengthAdjust="spacing">TGF<tspan font-weight="normal">&#946;</tspan>2 (pg/mL)</text>
<text x="368.00" y="467.00" font-size="25.3" font-weight="bold" text-anchor="start" stroke="#000" stroke-width="0.45" stroke-linejoin="round">(H)</text>
<text x="497.20" y="473.70" font-size="22.1" font-weight="bold" text-anchor="start" stroke="#000" stroke-width="0.45" stroke-linejoin="round">ELISA</text>
</g>
</svg>
</body>
</html>
